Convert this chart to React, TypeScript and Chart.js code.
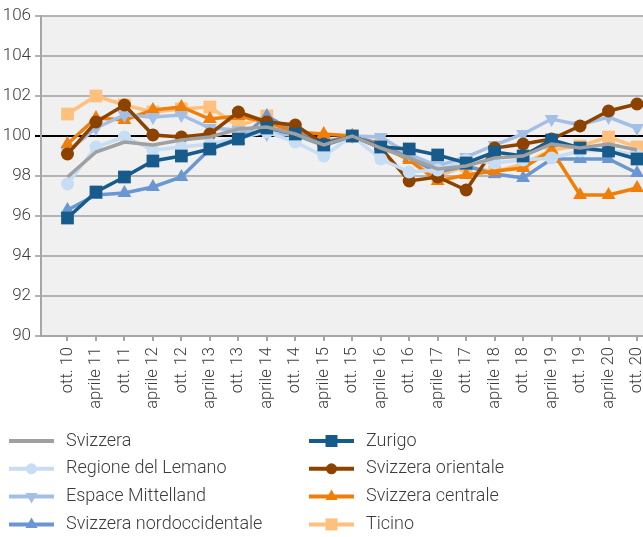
import React, { useEffect, useRef } from "react";
import { Chart, registerables } from "chart.js";

Chart.register(...registerables);

const labels = [
  "ott. 10", "aprile 11", "ott. 11", "aprile 12", "ott. 12", "aprile 13", "ott. 13",
  "aprile 14", "ott. 14", "aprile 15", "ott. 15", "aprile 16", "ott. 16", "aprile 17",
  "ott. 17", "aprile 18", "ott. 18", "aprile 19", "ott. 19", "aprile 20", "ott. 20",
];

const svizzera = [97.95, 99.2, 99.7, 99.55, 99.8, 99.95, 100.35, 100.45, 100.1, 99.55, 100.0, 99.4, 98.9, 98.35, 98.5, 98.9, 99.0, 99.6, 99.4, 99.6, 99.3];
const zurigo = [95.9, 97.2, 97.95, 98.75, 99.0, 99.35, 99.85, 100.4, 100.1, 99.55, 100.0, 99.45, 99.35, 99.05, 98.65, 99.2, 99.0, 99.8, 99.4, 99.25, 98.85];
const lemano = [97.6, 99.45, 99.95, 99.3, 99.45, 99.6, 99.9, 100.2, 99.7, 99.0, 100.0, 98.85, 98.2, 98.3, 98.8, 98.65, 98.8, 98.9, 99.25, 99.3, 99.05];
const orientale = [99.1, 100.7, 101.55, 100.05, 99.95, 100.1, 101.2, 100.7, 100.55, 99.6, 100.0, 99.4, 97.75, 97.95, 97.3, 99.4, 99.6, 99.85, 100.5, 101.25, 101.6];
const mittelland = [99.2, 100.4, 101.05, 100.95, 101.05, 100.4, 100.3, 100.1, 100.05, 99.5, 100.0, 99.95, 99.1, 98.5, 98.95, 99.55, 100.1, 100.85, 100.55, 100.95, 100.4];
const centrale = [99.6, 100.9, 100.8, 101.3, 101.45, 100.85, 101.0, 100.7, 100.2, 100.1, 100.0, 99.5, 98.8, 97.75, 98.05, 98.25, 98.4, 99.3, 97.05, 97.05, 97.4];
const nordocc = [96.3, 97.05, 97.15, 97.45, 97.95, 99.35, 99.8, 101.0, 100.2, 99.7, 100.0, 99.6, 98.9, 98.2, 98.5, 98.1, 97.9, 98.85, 98.85, 98.85, 98.15];
const ticino = [101.1, 102.0, 101.55, 101.2, 101.35, 101.45, 100.5, 101.0, 100.1, 99.7, 100.0, 99.6, 99.0, 98.0, 98.5, 98.2, 98.6, 99.3, 99.5, 99.95, 99.45];

const yTicks = [90, 92, 94, 96, 98, 100, 102, 104, 106];

type Series = { name: string; data: number[]; color: string; style: string; radius: number; rotation: number };

const series: Series[] = [
  { name: "Svizzera", data: svizzera, color: "#a0a0a0", style: "none", radius: 0, rotation: 0 },
  { name: "Zurigo", data: zurigo, color: "#165b8c", style: "rect", radius: 9, rotation: 0 },
  { name: "Regione del Lemano", data: lemano, color: "#c6ddf3", style: "circle", radius: 6.5, rotation: 0 },
  { name: "Svizzera orientale", data: orientale, color: "#8c4300", style: "circle", radius: 6.5, rotation: 0 },
  { name: "Espace Mittelland", data: mittelland, color: "#a4bfe6", style: "triangle", radius: 8, rotation: 180 },
  { name: "Svizzera centrale", data: centrale, color: "#f07f0a", style: "triangle", radius: 8, rotation: 0 },
  { name: "Svizzera nordoccidentale", data: nordocc, color: "#6a97d2", style: "triangle", radius: 8, rotation: 0 },
  { name: "Ticino", data: ticino, color: "#fdc07d", style: "rect", radius: 9, rotation: 0 },
];

const legendOrder = [
  "Svizzera", "Regione del Lemano", "Espace Mittelland", "Svizzera nordoccidentale",
  "Zurigo", "Svizzera orientale", "Svizzera centrale", "Ticino",
];

const FONT = "Roboto, 'Noto Sans', sans-serif";
const TEXT = "#3c3c3c";

function drawMarker(ctx: CanvasRenderingContext2D, s: Series, x: number, y: number, r: number) {
  ctx.fillStyle = s.color;
  ctx.beginPath();
  if (s.style === "rect") {
    ctx.rect(x - r, y - r, 2 * r, 2 * r);
  } else if (s.style === "circle") {
    ctx.arc(x, y, r, 0, Math.PI * 2);
  } else if (s.style === "triangle") {
    const dir = s.rotation === 180 ? 1 : -1;
    ctx.moveTo(x, y + dir * r);
    ctx.lineTo(x - r * 0.87, y - dir * r * 0.5);
    ctx.lineTo(x + r * 0.87, y - dir * r * 0.5);
    ctx.closePath();
  } else {
    return;
  }
  ctx.fill();
}

const bgPlugin = {
  id: "bg",
  beforeDraw(chart: any) {
    const { ctx, chartArea } = chart;
    ctx.save();
    ctx.fillStyle = "#ffffff";
    ctx.fillRect(0, 0, chart.width, chart.height);
    ctx.fillStyle = "#f0f0f0";
    ctx.fillRect(chartArea.left, chartArea.top, chartArea.right - chartArea.left, chartArea.bottom - chartArea.top);
    ctx.restore();
  },
};

const legendPlugin = {
  id: "customLegend",
  afterDraw(chart: any) {
    const ctx: CanvasRenderingContext2D = chart.ctx;
    ctx.save();
    legendOrder.forEach((name, k) => {
      const s = series.find((q) => q.name === name)!;
      const col = k < 4 ? 0 : 1;
      const row = k % 4;
      const x0 = col === 0 ? 9 : 309;
      const y = 441 + row * 27.8;
      ctx.strokeStyle = s.color;
      ctx.lineWidth = 4;
      ctx.beginPath();
      ctx.moveTo(x0, y);
      ctx.lineTo(x0 + 45, y);
      ctx.stroke();
      drawMarker(ctx, s, x0 + 22.5, y, s.style === "rect" ? 6 : s.style === "circle" ? 5.5 : 7);
      ctx.fillStyle = TEXT;
      ctx.font = `300 18px ${FONT}`;
      ctx.textBaseline = "middle";
      ctx.textAlign = "left";
      ctx.fillText(name, x0 + 57, y);
    });
    ctx.restore();
  },
};

export default function App() {
  const ref = useRef<HTMLCanvasElement>(null);
  useEffect(() => {
    document.body.style.margin = "0";
    const chart = new Chart(ref.current!, {
      type: "line",
      data: {
        datasets: series.map((s) => ({
          label: s.name,
          data: s.data.map((v, i) => ({ x: i, y: v })),
          borderColor: s.color,
          backgroundColor: s.color,
          borderWidth: 3.5,
          pointStyle: s.style === "none" ? false : (s.style as any),
          pointRadius: s.radius,
          pointRotation: s.rotation,
          pointBorderWidth: 0,
          pointBackgroundColor: s.color,
          tension: 0,
        })),
      },
      options: {
        animation: false,
        responsive: false,
        layout: { autoPadding: false, padding: { top: 16, right: 0, left: 0, bottom: 0 } },
        plugins: { legend: { display: false }, tooltip: { enabled: false } },
        scales: {
          x: {
            type: "linear",
            min: -0.93,
            max: 20.21,
            afterBuildTicks: (scale: any) => {
              scale.ticks = labels.map((_, i) => ({ value: i }));
            },
            afterFit: (scale: any) => {
              scale.height = 201;
              scale.paddingLeft = 0;
              scale.paddingRight = 0;
            },
            ticks: {
              autoSkip: false,
              maxRotation: 90,
              minRotation: 90,
              padding: 6,
              color: TEXT,
              font: { family: FONT, size: 16.5, weight: 300 as any },
              callback: (v: any) => labels[Math.round(Number(v))] ?? "",
            },
            grid: { drawOnChartArea: false, drawTicks: true, tickLength: 5, color: "#a6a6a6", lineWidth: 2 },
            border: { color: "#a6a6a6", width: 2 },
          },
          y: {
            min: 90,
            max: 106,
            afterBuildTicks: (scale: any) => {
              scale.ticks = yTicks.map((v) => ({ value: v }));
            },
            afterFit: (scale: any) => {
              scale.width = 41;
              scale.paddingTop = 0;
              scale.paddingBottom = 0;
            },
            ticks: {
              color: TEXT,
              font: { family: FONT, size: 17, weight: 300 as any },
              padding: 4,
            },
            grid: {
              color: (c: any) => (c.tick && c.tick.value === 100 ? "#000000" : "#b4b4b4"),
              lineWidth: 2,
              drawTicks: true,
              tickLength: 6,
            },
            border: { color: "#a6a6a6", width: 2 },
          },
        },
      },
      plugins: [bgPlugin, legendPlugin],
    } as any);
    return () => chart.destroy();
  }, []);
  return <canvas ref={ref} width={643} height={537} style={{ display: "block" }} />;
}
